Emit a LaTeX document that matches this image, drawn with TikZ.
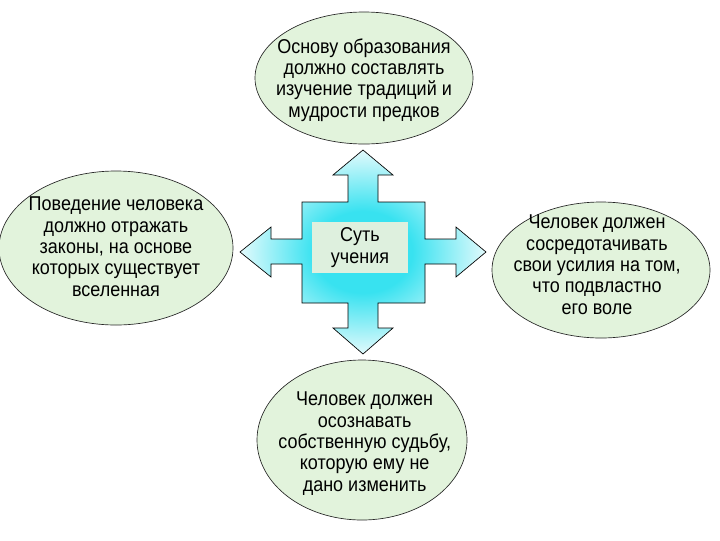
\documentclass[tikz,border=0pt]{standalone}
\usepackage{fontspec}
\setmainfont{Liberation Sans}[FakeStretch=0.9]
\definecolor{bubblegreen}{RGB}{226,243,220}
\definecolor{coregreen}{RGB}{222,240,222}
\definecolor{crossin}{RGB}{56,226,240}
\definecolor{crossout}{RGB}{226,250,252}
\pgfdeclareradialshading{crossglow}{\pgfpoint{0bp}{0bp}}{color(0bp)=(crossin);
  color(10bp)=(crossin); color(25bp)=(crossout); color(50bp)=(crossout)}
\tikzset{
  bubble/.style={draw=black!85, line width=0.5pt, fill=bubblegreen},
  bubbletext/.style={align=center, font=\fontsize{15}{16}\selectfont, inner sep=0pt},
  crossarrow/.style={draw=black, line width=0.5pt, shading=crossglow}
}
\begin{document}
\begin{tikzpicture}[x=0.75pt,y=-0.75pt]
\useasboundingbox (0,0) rectangle (720,540);
\def\topellipse{(364,78) ellipse (109 and 66)}
\def\leftellipse{(116,248) ellipse (117 and 77)}
\def\rightellipse{(601,270) ellipse (109 and 68)}
\def\bottomellipse{(362,440) ellipse (105 and 80)}

% the four-way arrow in the middle
\path[crossarrow] (363,150) -- (393,175) -- (378,175) -- (378,202) -- (425,202)
  -- (425,239) -- (456,239) -- (456,227) -- (486,252) -- (456,277) -- (456,264)
  -- (425,264) -- (425,303) -- (378,303) -- (378,328) -- (393,328) -- (363,354)
  -- (333,328) -- (348,328) -- (348,303) -- (302,303) -- (302,264) -- (271,264)
  -- (271,277) -- (240,252) -- (271,227) -- (271,239) -- (302,239) -- (302,202)
  -- (348,202) -- (348,175) -- (333,175) -- cycle;
\node[bubbletext, fill=coregreen, minimum width=72pt, minimum height=38pt]
  (core) at (360,247.5) {Суть\\учения};

\draw[bubble] \topellipse node[bubbletext, yshift=-1.5pt] (top)
  {Основу образования\\должно составлять\\изучение традиций и\\мудрости предков};
\draw[bubble] \leftellipse node[bubbletext, yshift=1pt] (left)
  {Поведение человека\\должно отражать\\законы, на основе\\которых существует\\вселенная};
\draw[bubble] \rightellipse node[bubbletext, xshift=-3pt, yshift=4pt] (right)
  {Человек должен\\сосредотачивать\\свои усилия на том,\\что подвластно\\его воле};
\draw[bubble] \bottomellipse node[bubbletext, xshift=2pt, yshift=-2.6pt] (bottom)
  {Человек должен\\осознавать\\собственную судьбу,\\которую ему не\\дано изменить};
\end{tikzpicture}
\end{document}
